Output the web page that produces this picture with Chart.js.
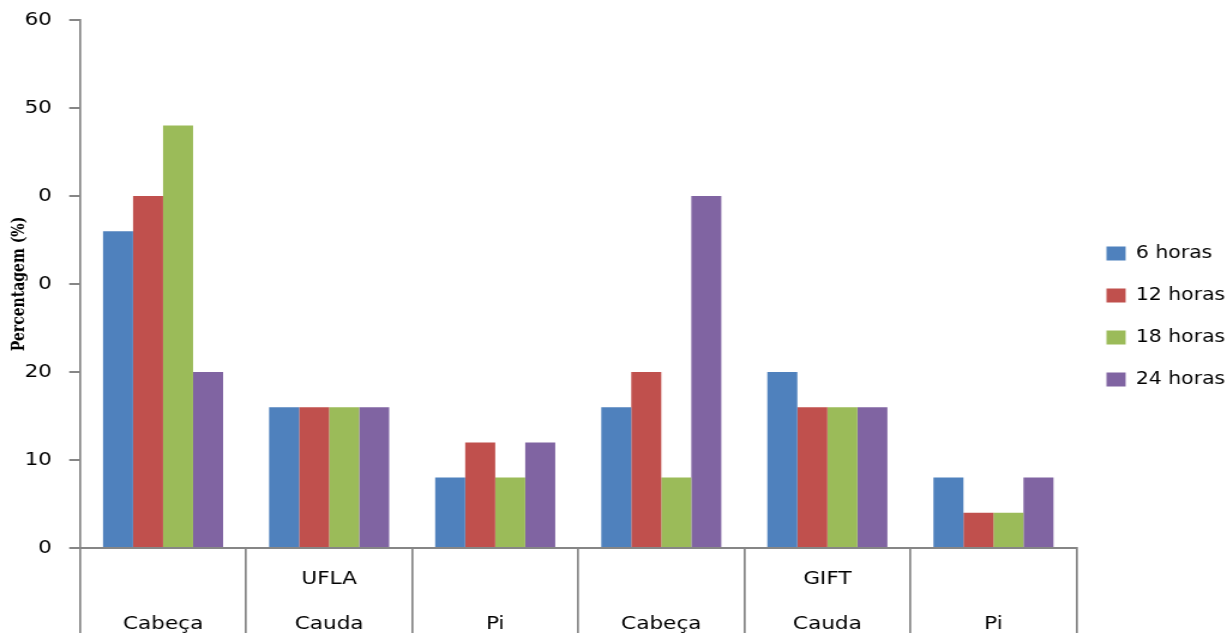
<!DOCTYPE html>
<html>
<head>
<meta charset="utf-8">
<script src="https://cdn.jsdelivr.net/npm/chart.js@4.4.1/dist/chart.umd.min.js"></script>
<style>
  html, body { margin: 0; padding: 0; background: #fff; overflow: hidden; }
  #wrap { width: 1227px; height: 633px; overflow: hidden; }
  /* the chart is laid out on a narrower canvas and widened to the page width */
  #c { transform-origin: 0 0; transform: scaleX(1.19941); }
</style>
</head>
<body>
<div id="wrap"><canvas id="c" width="1023" height="633"></canvas></div>
<script>
// Two-level categories: body region (bottom row) and line (top row, centred group label)
const regionLabels = ["Cabeça", "Cauda", "Pi", "Cabeça", "Cauda", "Pi"];
const groupLabels  = ["", "UFLA", "", "", "GIFT", ""];

const seriesNames = ["6 horas", "12 horas", "18 horas", "24 horas"];
const horas6  = [36, 16, 8, 16, 20, 8];
const horas12 = [40, 16, 12, 20, 16, 4];
const horas18 = [48, 16, 8, 8, 16, 4];
const horas24 = [20, 16, 12, 40, 16, 8];

const yTickLabels = ["0", "10", "20", "0", "0", "50", "60"];
const yTitle = "Percentagem (%)";

const colors = ["#4F81BD", "#C0504D", "#9BBB59", "#8064A2"];
const axisGray = "#868686";

const labels = regionLabels.map((r, i) => [groupLabels[i], r]);
const values = [horas6, horas12, horas18, horas24];

new Chart(document.getElementById("c"), {
  type: "bar",
  data: {
    labels: labels,
    datasets: seriesNames.map((name, i) => ({
      label: name,
      data: values[i],
      backgroundColor: colors[i],
      borderWidth: 0,
      categoryPercentage: 0.723,
      barPercentage: 1.0
    }))
  },
  options: {
    responsive: false,
    animation: false,
    devicePixelRatio: 1,
    layout: { padding: { top: 0, right: 0, left: 0, bottom: 0 } },
    plugins: {
      tooltip: { enabled: false },
      legend: {
        position: "right",
        align: "center",
        maxWidth: 125.5,
        labels: {
          color: "#000",
          font: { family: "DejaVu Sans", size: 17 },
          boxWidth: 16,
          boxHeight: 14,
          padding: 25
        }
      }
    },
    scales: {
      x: {
        afterFit: (s) => { s.height = 85; },
        grid: {
          offset: true,
          drawOnChartArea: false,
          tickLength: 85,
          color: axisGray,
          lineWidth: 1.7
        },
        border: { color: axisGray, width: 2 },
        ticks: {
          color: "#000",
          font: { family: "DejaVu Sans", size: 18, lineHeight: 2.5 },
          padding: -76,
          maxRotation: 0,
          autoSkip: false
        }
      },
      y: {
        min: 0,
        max: 60,
        afterFit: (s) => { s.width = 66.7; s.paddingTop = 20; },
        grid: {
          drawOnChartArea: false,
          tickLength: 9,
          color: axisGray,
          lineWidth: 2
        },
        border: { color: axisGray, width: 1.7 },
        ticks: {
          stepSize: 10,
          color: "#000",
          font: { family: "DejaVu Sans", size: 18 },
          padding: 14.4,
          callback: (v, i) => yTickLabels[i]
        },
        title: {
          display: true,
          text: yTitle,
          color: "#000",
          font: { family: "DejaVu Serif", size: 14, weight: "bold" },
          padding: { top: 8, bottom: 0 }
        }
      }
    }
  }
});
</script>
</body>
</html>
